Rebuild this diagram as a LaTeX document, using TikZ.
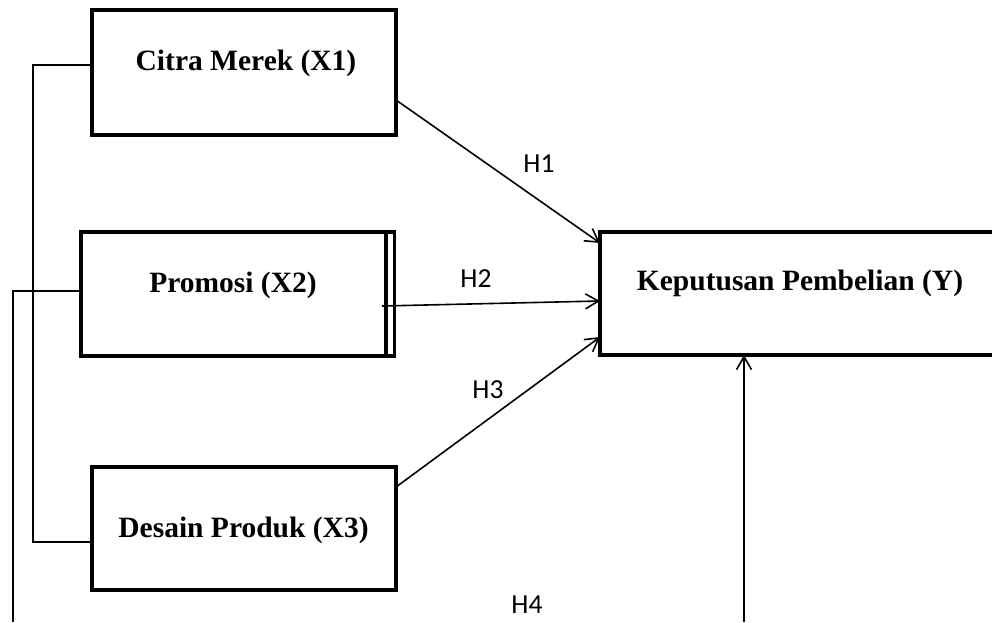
\documentclass[tikz,border=0pt]{standalone}
\usepackage{fontspec}
\setmainfont{Liberation Serif}
\newfontfamily\hfont{Carlito}
\usetikzlibrary{arrows.meta}
\begin{document}
\begin{tikzpicture}[x=1pt,y=-1pt,
  varbox/.style={draw, line width=4pt, rectangle, outer sep=0pt, inner sep=0pt},
  boxtext/.style={anchor=base, inner sep=0pt, font=\fontsize{29.5}{34}\selectfont\bfseries},
  hlabel/.style={anchor=base, inner sep=0pt, font=\hfont\fontsize{27.5}{32}\selectfont},
  thin line/.style={line width=1.6pt},
  arrowline/.style={line width=1.6pt, -{Straight Barb[length=13pt,width=15pt,line width=1.6pt]}}]
\useasboundingbox (0,0) rectangle (992,622);
% boxes
\node[varbox, minimum width=304pt, minimum height=125pt] (x1) at (244,72.5) {};
\node[varbox, minimum width=305pt, minimum height=124pt] (x2) at (233.5,294) {};
\node[varbox, minimum width=304pt, minimum height=123pt] (x3) at (244,528.5) {};
\node[varbox, minimum width=400pt, minimum height=123pt] (y) at (800,293.5) {};
% double right edge of X2
\draw[line width=4pt] (386,232) -- (396,232);
\draw[line width=4pt] (386,356) -- (396,356);
\draw[line width=2.6pt] (394.5,232) -- (394.5,356);
% texts
\node[boxtext] (t1) at (246,70) {Citra Merek (X1)};
\node[boxtext] (t2) at (233,292) {Promosi (X2)};
\node[boxtext] (t3) at (243.5,537.5) {Desain Produk (X3)};
\node[boxtext] (ty) at (800,290.5) {Keputusan Pembelian (Y)};
% hypothesis labels
\node[hlabel] (h1) at (539,172.5) {H1};
\node[hlabel] (h2) at (476,287.3) {H2};
\node[hlabel] (h3) at (488,398) {H3};
\node[hlabel] (h4) at (527,613) {H4};
% arrows
\draw[arrowline] ([yshift=-27.5pt]x1.east) -- ([yshift=50.5pt]y.west);
\draw[arrowline] ([xshift=-4pt,yshift=-12pt]x2.east) -- ([yshift=-7.5pt]y.west);
\draw[arrowline] ([yshift=41.5pt]x3.east) -- ([yshift=-43.5pt]y.west);
\coordinate (b4) at (744,622);
\draw[arrowline] (b4) -- (y.south -| b4);
% left connectors
\coordinate (c1) at (33,65);
\coordinate (c3) at (33,542);
\draw[thin line] ([yshift=7.5pt]x1.west) -- (c1) -- (c3) -- (c3 -| x3.west);
\coordinate (c2) at (13,291);
\coordinate (c2b) at (13,622);
\draw[thin line] ([yshift=3pt]x2.west) -- (c2) -- (c2b);
\end{tikzpicture}
\end{document}
